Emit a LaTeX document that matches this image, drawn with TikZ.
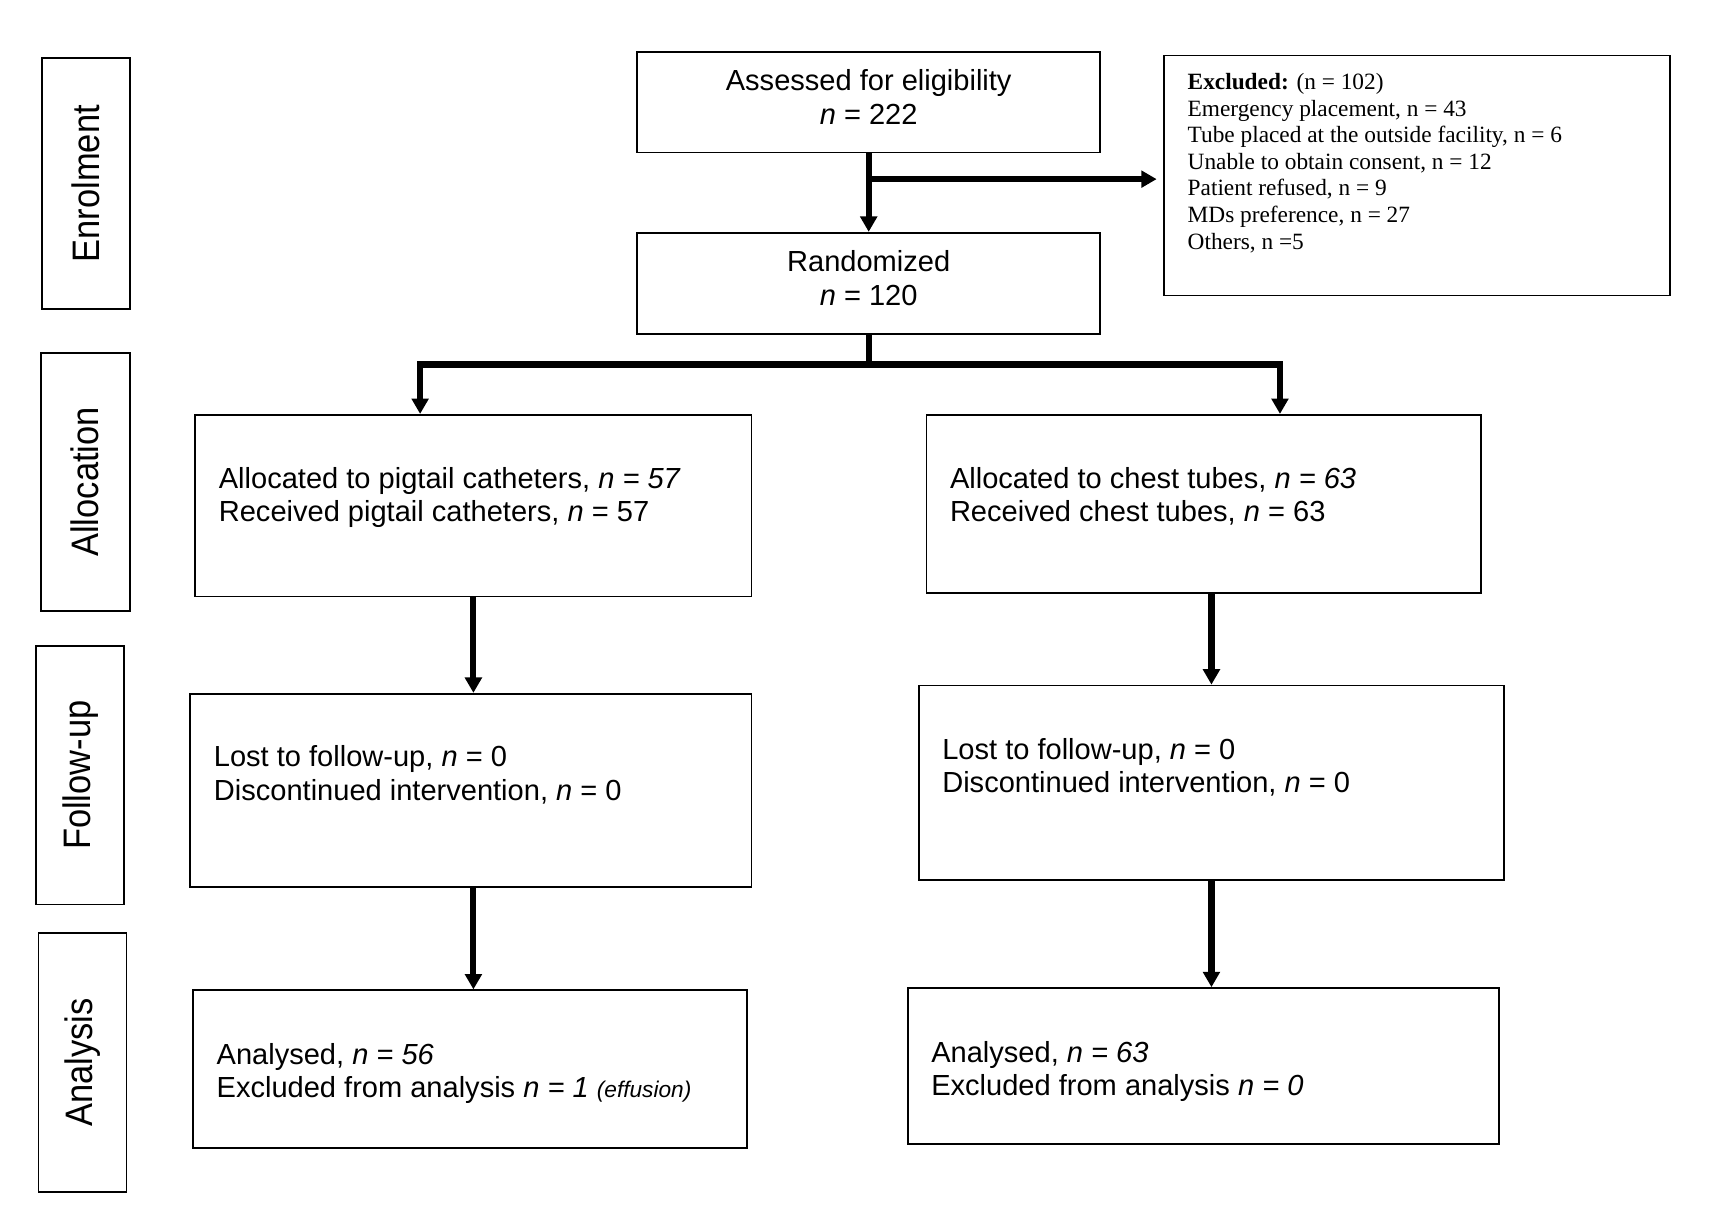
\documentclass[tikz,border=0pt]{standalone}
\usepackage{fontspec}
\setmainfont{Liberation Sans}
\newfontfamily\exfont{Liberation Serif}
\newfontfamily\labfont[FakeStretch=0.9]{Liberation Sans}
\usetikzlibrary{arrows.meta,fit,calc}
\begin{document}
\begin{tikzpicture}[x=0.5pt,y=-0.5pt,
  box/.style={draw=black, line width=0.8pt, inner sep=0pt},
  txt/.style={inner sep=0pt, anchor=base west, font=\fontsize{13.2}{15.1}\selectfont},
  ctxt/.style={inner sep=0pt, anchor=base, font=\fontsize{13.2}{15.1}\selectfont},
  extxt/.style={inner sep=0pt, anchor=base west, font=\exfont\fontsize{10.6}{12.1}\selectfont},
  labtxt/.style={inner sep=0pt, rotate=90, font=\labfont\fontsize{17.4}{20}\selectfont},
  flow/.style={line width=2.8pt, -{Triangle[width=7.5pt,length=7pt]}},
  bar/.style={line width=2.8pt}
]
\useasboundingbox (0,0) rectangle (1565,1099.7);

% stage labels
\node[box, fit={(38,53) (118,281)}] (enr) {};
\node[labtxt] at (enr.center) {Enrolment};
\node[box, fit={(37,321) (118,555)}] (alloc) {};
\node[labtxt] at (alloc.center) {Allocation};
\node[box, fit={(33,587) (113,822)}] (fu) {};
\node[labtxt] at (fu.center) {Follow-up};
\node[box, fit={(35,848) (115,1083)}] (ana) {};
\node[labtxt] at (ana.center) {Analysis};

% top boxes
\node[box, fit={(579,47) (1000,138.5)}] (assess) {};
\node[ctxt] (assess1) at (789.5,82.5) {Assessed for eligibility};
\node[ctxt] (assess2) at (789.5,112.7) {\textit{n} = 222};

\node[box, fit={(579,211.5) (1000,303.5)}] (rand) {};
\node[ctxt] (rand1) at (789.5,247) {Randomized};
\node[ctxt] (rand2) at (789.5,277.3) {\textit{n} = 120};

\node[box, fit={(1058,50.5) (1518,268.5)}] (excl) {};
\node[extxt] (ex1) at (1079,81.4) {\textbf{Excluded:} (n = 102)};
\node[extxt] (ex2) at (1079,105.6) {Emergency placement, n = 43};
\node[extxt] (ex3) at (1079,129.8) {Tube placed at the outside facility, n = 6};
\node[extxt] (ex4) at (1079,153.9) {Unable to obtain consent, n = 12};
\node[extxt] (ex5) at (1079,178.1) {Patient refused, n = 9};
\node[extxt] (ex6) at (1079,202.3) {MDs preference, n = 27};
\node[extxt] (ex7) at (1079,226.5) {Others, n =5};

% allocation
\node[box, fit={(177.5,377) (683,542)}] (la) {};
\node[txt] (la1) at (198.5,444) {Allocated to pigtail catheters, \textit{n = 57}};
\node[txt] (la2) at (198.5,474) {Received pigtail catheters, \textit{n} = 57};

\node[box, fit={(842,377) (1346,539)}] (ra) {};
\node[txt] (ra1) at (863,444) {Allocated to chest tubes, \textit{n = 63}};
\node[txt] (ra2) at (863,474) {Received chest tubes, \textit{n} = 63};

% follow-up
\node[box, fit={(173,630.5) (683,806)}] (lf) {};
\node[txt] (lf1) at (194,697) {Lost to follow-up, \textit{n} = 0};
\node[txt] (lf2) at (194,727.5) {Discontinued intervention, \textit{n} = 0};

\node[box, fit={(835,623) (1367,800)}] (rf) {};
\node[txt] (rf1) at (856,690) {Lost to follow-up, \textit{n} = 0};
\node[txt] (rf2) at (856,720.5) {Discontinued intervention, \textit{n} = 0};

% analysis
\node[box, fit={(175.5,900) (679,1043)}] (lan) {};
\node[txt] (lan1) at (196.5,967) {Analysed, \textit{n = 56}};
\node[txt] (lan2) at (196.5,997.5) {Excluded from analysis \textit{n = 1} {\fontsize{10.3}{12}\selectfont\textit{(effusion)}}};

\node[box, fit={(825,898) (1362,1040)}] (ran) {};
\node[txt] (ran1) at (846,966) {Analysed, \textit{n = 63}};
\node[txt] (ran2) at (846,996) {Excluded from analysis \textit{n = 0}};

% connectors
\draw[flow] (assess.south) -- (rand.north);
\coordinate (branch) at ($(assess.south)!0.329!(rand.north)$);
\draw[flow, shorten >=3pt] (branch) -- (branch -| excl.west);

\coordinate (split) at ($(rand.south)+(0,27)$);
\draw[bar] (rand.south) -- (split);
\draw[flow] (split) -| ($(la.north west)!0.4045!(la.north east)$);
\draw[flow] (split) -| ($(ra.north west)!0.637!(ra.north east)$);

\draw[flow] (la.south) -- (la.south |- lf.north);
\draw[flow] (la.south |- lf.south) -- (la.south |- lan.north);
\draw[flow] (rf.north |- ra.south) -- (rf.north);
\draw[flow] (rf.south) -- (rf.south |- ran.north);
\end{tikzpicture}
\end{document}
